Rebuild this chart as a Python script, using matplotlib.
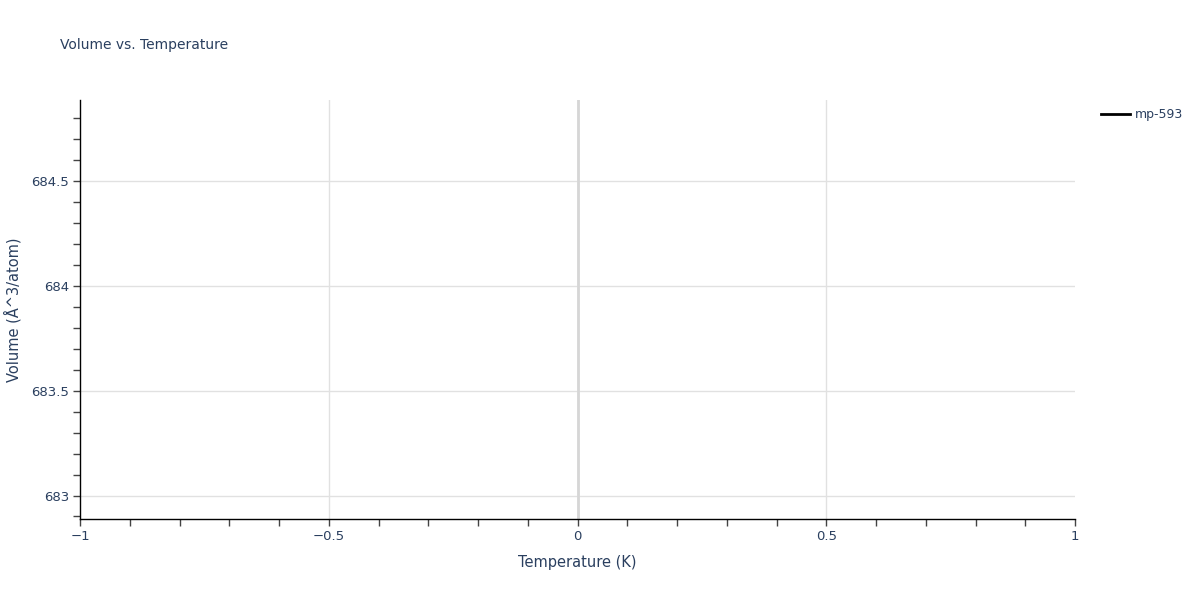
import numpy as np
import matplotlib.pyplot as plt
from matplotlib.ticker import MultipleLocator, FuncFormatter

# single equilibrium point (only one temperature in the data set)
temperature = [0.0]
volume = [683.888]
series_name = "mp-593"

text_color = "#2a3f5f"
grid_color = "#e1e1e1"

plt.rcParams['font.family'] = ['DejaVu Sans']

fig = plt.figure(figsize=(12, 6), dpi=100)
ax = fig.add_axes([80 / 1200, 81 / 600, 995 / 1200, 419 / 600])

line, = ax.plot(temperature, volume, color="black", lw=2, label=series_name)

# plotly style autorange for one point: +/- 1 around the value
ax.set_xlim(temperature[0] - 1, temperature[0] + 1)
ax.set_ylim(volume[0] - 1, volume[0] + 1)

ax.xaxis.set_major_locator(MultipleLocator(0.5))
ax.xaxis.set_minor_locator(MultipleLocator(0.1))
ax.yaxis.set_major_locator(MultipleLocator(0.5))
ax.yaxis.set_minor_locator(MultipleLocator(0.1))

fmt = FuncFormatter(lambda v, p: ("%g" % v).replace("-", "\u2212"))
ax.xaxis.set_major_formatter(fmt)
ax.yaxis.set_major_formatter(fmt)

ax.grid(True, which="major", color=grid_color, lw=1)
# no grid lines on the plot edges
for gl, loc in zip(ax.get_xgridlines(), ax.get_xticks()):
    if abs(loc) >= 1:
        gl.set_visible(False)
ax.axvline(0, color="#d6d6d6", lw=2, zorder=1)
ax.set_axisbelow(True)

for s in ["top", "right"]:
    ax.spines[s].set_visible(False)
for s in ["left", "bottom"]:
    ax.spines[s].set_color("black")
    ax.spines[s].set_linewidth(1)

ax.tick_params(which="both", direction="out", length=5, width=1, color="#444444",
               labelcolor=text_color, labelsize=9.5, pad=3)

ax.set_xlabel("Temperature (K)", color=text_color, fontsize=10.5)
ax.set_ylabel("Volume (Å^3/atom)", color=text_color, fontsize=10.5)
ax.xaxis.set_label_coords(0.5, -(563 - 519) / 419)
ax.yaxis.set_label_coords(-(80 - 13) / 995, 0.5)
ax.xaxis.label.set_va("center")
ax.yaxis.label.set_va("center")

fig.text(60 / 1200, 1 - 45 / 600, "Volume vs. Temperature", color=text_color,
         fontsize=10, va="center", ha="left")

leg = fig.legend(handles=[line], loc="upper left", bbox_to_anchor=(1090 / 1200, 1 - 97 / 600),
                 frameon=False, fontsize=9, handlelength=2.3, handletextpad=0.4,
                 labelcolor=text_color)

plt.savefig("out.png", dpi=100)
